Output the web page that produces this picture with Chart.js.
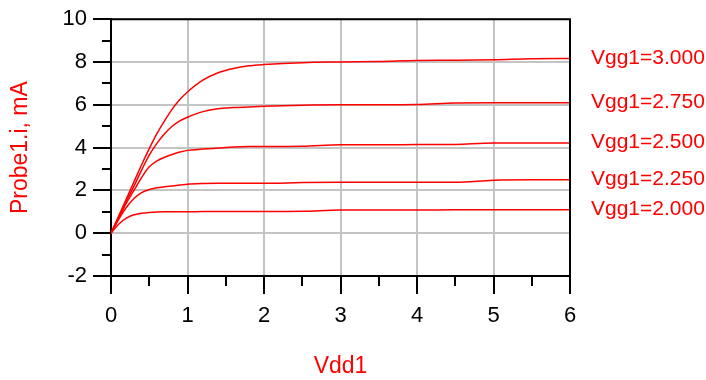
<!DOCTYPE html>
<html>
<head>
<meta charset="utf-8">
<script src="https://cdn.jsdelivr.net/npm/chart.js@4/dist/chart.umd.min.js"></script>
<style>
html,body{margin:0;padding:0;background:#fff;}
#c{display:block;}
</style>
</head>
<body>
<canvas id="c" width="706" height="380"></canvas>
<script>
// Vdd1 sweep values (V)
const vdd = [0, 0.1, 0.2, 0.3, 0.4, 0.5, 0.6, 0.7, 0.8, 0.9, 1.0, 1.2, 1.4, 1.6, 1.8, 2.0, 2.5, 3.0, 3.5, 4.0, 4.5, 5.0, 5.5, 6.0];
// Probe1.i (mA) for each Vgg1
const iVgg2000 = [0, 0.42, 0.70, 0.86, 0.93, 0.97, 0.99, 1.00, 1.00, 1.00, 1.00, 1.01, 1.01, 1.01, 1.01, 1.01, 1.02, 1.08, 1.08, 1.08, 1.09, 1.09, 1.09, 1.09];
const iVgg2250 = [0, 0.65, 1.20, 1.62, 1.90, 2.04, 2.12, 2.17, 2.21, 2.25, 2.29, 2.32, 2.33, 2.33, 2.33, 2.33, 2.37, 2.38, 2.38, 2.38, 2.38, 2.48, 2.50, 2.50];
const iVgg2500 = [0, 0.70, 1.40, 2.00, 2.60, 3.10, 3.38, 3.55, 3.68, 3.79, 3.87, 3.93, 3.98, 4.03, 4.05, 4.05, 4.06, 4.13, 4.13, 4.14, 4.15, 4.21, 4.21, 4.22];
const iVgg2750 = [0, 0.75, 1.50, 2.20, 2.95, 3.65, 4.20, 4.65, 5.00, 5.25, 5.42, 5.68, 5.82, 5.87, 5.90, 5.93, 5.98, 6.00, 6.00, 6.01, 6.08, 6.09, 6.09, 6.10];
const iVgg3000 = [0, 0.80, 1.60, 2.40, 3.20, 3.95, 4.65, 5.25, 5.80, 6.25, 6.60, 7.15, 7.50, 7.70, 7.82, 7.88, 7.97, 8.00, 8.02, 8.07, 8.08, 8.10, 8.15, 8.16];
const seriesLabels = ['Vgg1=2.000', 'Vgg1=2.250', 'Vgg1=2.500', 'Vgg1=2.750', 'Vgg1=3.000'];
const seriesValues = [iVgg2000, iVgg2250, iVgg2500, iVgg2750, iVgg3000];
const xTitle = 'Vdd1';
const yTitle = 'Probe1.i, mA';

const FONT = "'Liberation Sans', Arial, sans-serif";
const RED = '#ff0000';

const datasets = seriesValues.map((ys, k) => ({
  label: seriesLabels[k],
  data: vdd.map((x, i) => ({x: x, y: ys[i]})),
  borderColor: RED,
  borderWidth: 1.5,
  pointRadius: 0,
  fill: false,
  cubicInterpolationMode: 'monotone'
}));

const isInt = v => Math.abs(v - Math.round(v)) < 1e-6;
const isEven = v => isInt(v) && Math.round(v) % 2 === 0;

const decorPlugin = {
  id: 'decor',
  afterDraw(chart) {
    const ctx = chart.ctx;
    const a = chart.chartArea;
    const xs = chart.scales.x, ys = chart.scales.y;
    ctx.save();
    // box on top/right
    ctx.strokeStyle = '#000';
    ctx.lineWidth = 2;
    ctx.beginPath();
    ctx.moveTo(a.left, a.top);
    ctx.lineTo(a.right, a.top);
    ctx.lineTo(a.right, a.bottom);
    ctx.stroke();
    // minor ticks
    ctx.beginPath();
    for (let v = 0.5; v < 6; v += 1) {
      const px = Math.round(xs.getPixelForValue(v));
      ctx.moveTo(px, a.bottom);
      ctx.lineTo(px, a.bottom + 10);
    }
    for (let v = -1; v < 10; v += 2) {
      const py = Math.round(ys.getPixelForValue(v));
      ctx.moveTo(a.left, py);
      ctx.lineTo(a.left - 9, py);
    }
    ctx.stroke();
    // series labels at the right
    ctx.fillStyle = RED;
    ctx.font = "21px " + FONT;
    ctx.textAlign = 'left';
    ctx.textBaseline = 'alphabetic';
    chart.data.datasets.forEach(ds => {
      const last = ds.data[ds.data.length - 1];
      const py = ys.getPixelForValue(last.y);
      ctx.fillText(ds.label, a.right + 21, py + 5);
    });
    ctx.restore();
  }
};

new Chart(document.getElementById('c'), {
  type: 'line',
  data: { datasets: datasets },
  options: {
    responsive: false,
    animation: false,
    devicePixelRatio: 1,
    layout: { padding: { left: 0, right: 136, top: 19, bottom: 0 } },
    plugins: { legend: { display: false }, tooltip: { enabled: false } },
    scales: {
      x: {
        type: 'linear',
        min: 0, max: 6,
        afterFit: s => { s.height = 104; },
        ticks: {
          stepSize: 0.5,
          autoSkip: false,
          maxRotation: 0,
          color: '#000',
          padding: 9,
          font: { family: FONT, size: 22 },
          callback: v => isInt(v) ? String(Math.round(v)) : ''
        },
        grid: {
          color: c => (c.tick && isInt(c.tick.value)) ? '#c4c4c4' : 'rgba(0,0,0,0)',
          lineWidth: 2,
          drawTicks: true,
          tickLength: 18,
          tickWidth: 2,
          tickColor: c => (c.tick && isInt(c.tick.value)) ? '#000' : 'rgba(0,0,0,0)'
        },
        border: { color: '#000', width: 2 },
        title: {
          display: true,
          text: xTitle,
          color: RED,
          font: { family: FONT, size: 23 },
          padding: { top: 0, bottom: 0 }
        }
      },
      y: {
        type: 'linear',
        min: -2, max: 10,
        afterFit: s => { s.width = 111; },
        ticks: {
          stepSize: 1,
          autoSkip: false,
          color: '#000',
          padding: 6,
          font: { family: FONT, size: 22 },
          callback: v => isEven(v) ? String(Math.round(v)) : ''
        },
        grid: {
          color: c => (c.tick && isEven(c.tick.value)) ? '#c4c4c4' : 'rgba(0,0,0,0)',
          lineWidth: 2,
          drawTicks: true,
          tickLength: 18,
          tickWidth: 2,
          tickColor: c => (c.tick && isEven(c.tick.value)) ? '#000' : 'rgba(0,0,0,0)'
        },
        border: { color: '#000', width: 2 },
        title: {
          display: true,
          text: yTitle,
          color: RED,
          font: { family: FONT, size: 23 },
          padding: { top: 7, bottom: 0 }
        }
      }
    }
  },
  plugins: [decorPlugin]
});
</script>
</body>
</html>
